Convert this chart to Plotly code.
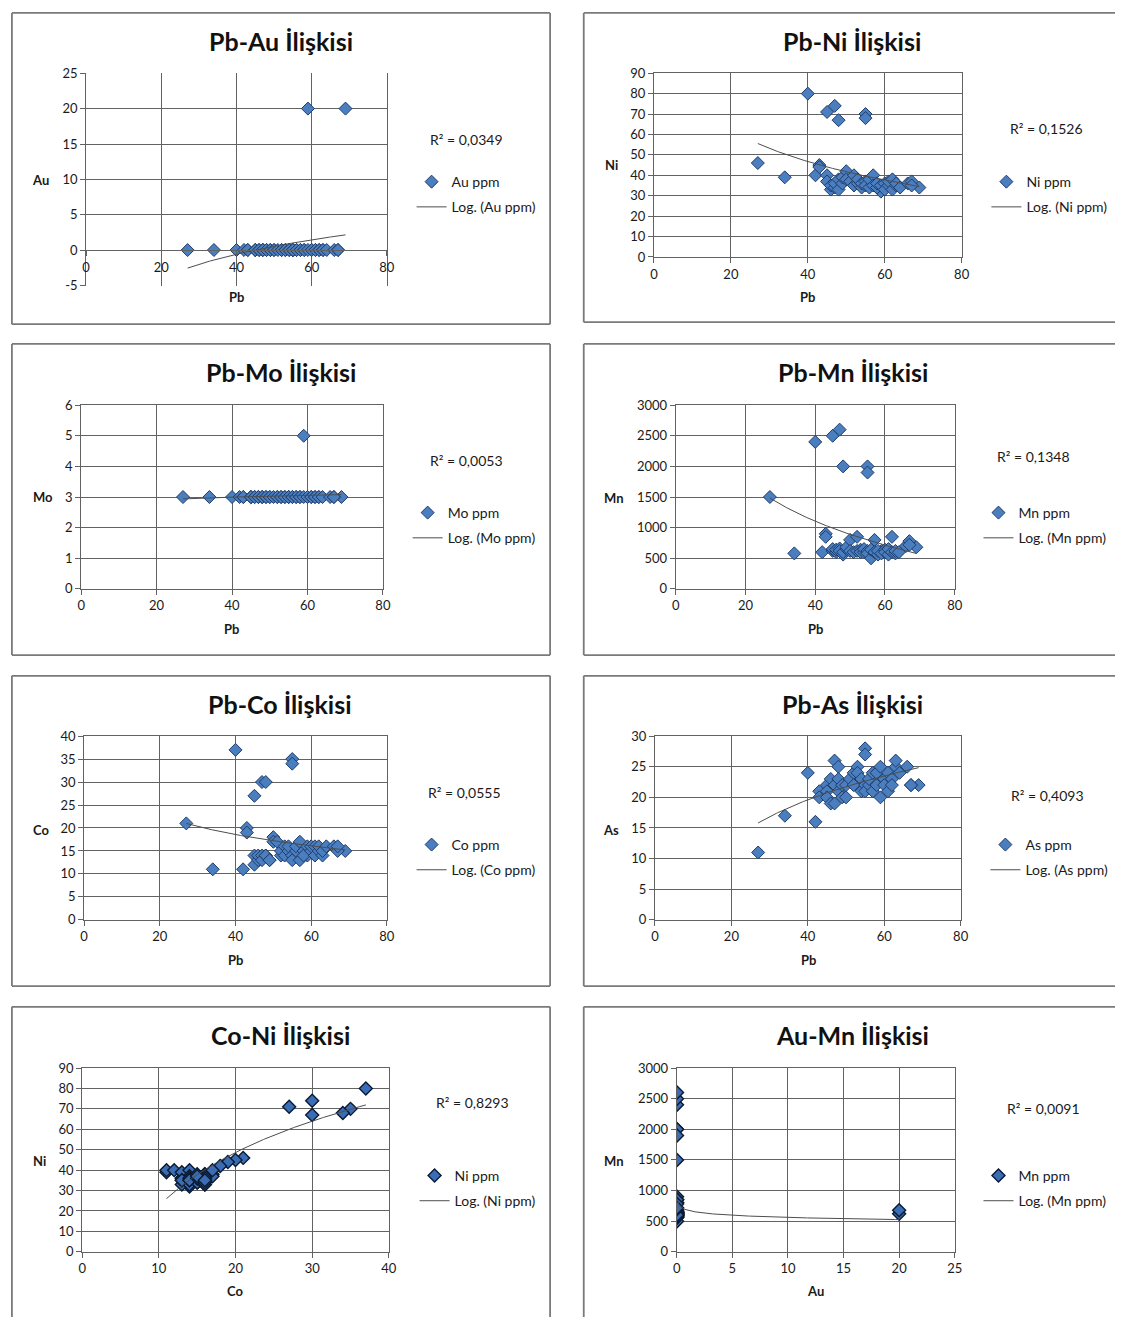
import numpy as np
import plotly.graph_objects as go

W, H = 1123, 1325
FONT = "Lato"

# ---------------- data (one entry per sample) ----------------
pb = [27, 34, 40, 42, 43, 43, 45, 47, 48, 55, 55, 59, 69,
      45, 45, 46, 46, 47, 47, 48, 48, 49, 49, 50, 50, 51, 52, 52, 53, 53,
      54, 54, 55, 55, 56, 56, 57, 57, 58, 58, 59, 60, 60, 61, 61, 62, 62,
      63, 63, 64, 66, 67, 67]
au = [0.025, 0.03, 0.025, 0.03, 0.03, 0.03, 0.025, 0.025, 0.025, 0.025, 0.025, 20, 20,
      0.03, 0.03, 0.03, 0.03, 0.03, 0.03, 0.03, 0.03, 0.03, 0.03, 0.03, 0.03, 0.03,
      0.03, 0.03, 0.03, 0.03, 0.03, 0.03, 0.03, 0.03, 0.03, 0.03, 0.03, 0.03, 0.03,
      0.03, 0.03, 0.03, 0.03, 0.03, 0.03, 0.03, 0.03, 0.03, 0.03, 0.03, 0.03, 0.03, 0.03]
ni = [46, 39, 80, 40, 45, 44, 71, 74, 67, 70, 68, 32, 34,
      40, 37, 33, 35, 34, 36, 38, 33, 36, 39, 42, 38, 37, 40, 35, 36, 38,
      34, 36, 37, 35, 34, 38, 40, 35, 34, 36, 35, 36, 33, 35, 37, 38, 33,
      35, 36, 34, 36, 37, 35]
mo = [3, 3, 3, 3, 3, 3, 3, 3, 3, 3, 3, 5, 3,
      3, 3, 3, 3, 3, 3, 3, 3, 3, 3, 3, 3, 3, 3, 3, 3, 3,
      3, 3, 3, 3, 3, 3, 3, 3, 3, 3, 3, 3, 3, 3, 3, 3, 3,
      3, 3, 3, 3, 3, 3]
mn = [1500, 580, 2400, 600, 900, 850, 2500, 2600, 2000, 2000, 1900, 620, 680,
      620, 650, 600, 640, 660, 620, 560, 600, 650, 680, 800, 620, 600, 850, 620, 640, 600,
      600, 650, 620, 580, 500, 640, 800, 600, 560, 620, 580, 640, 600, 560, 650, 850, 600,
      580, 620, 600, 700, 780, 720]
co = [21, 11, 37, 11, 20, 19, 27, 30, 30, 35, 34, 14, 15,
      12, 14, 13, 14, 14, 13, 14, 14, 13, 13, 18, 17, 17, 14, 15, 14, 16,
      15, 16, 14, 13, 15, 16, 17, 13, 15, 14, 16, 15, 16, 14, 16, 15, 16,
      14, 15, 16, 16, 15, 16]
as_ = [11, 17, 24, 16, 21, 20, 22, 26, 25, 28, 27, 20, 22,
       21, 20, 23, 19, 22, 19, 21, 23, 20, 22, 20, 22, 23, 24, 22, 25, 24,
       21, 23, 22, 21, 22, 23, 24, 21, 22, 24, 25, 23, 22, 24, 21, 23, 22,
       25, 26, 24, 25, 22, 22]

titles = ["Pb-Au İlişkisi", "Pb-Ni İlişkisi", "Pb-Mo İlişkisi", "Pb-Mn İlişkisi",
          "Pb-Co İlişkisi", "Pb-As İlişkisi", "Co-Ni İlişkisi", "Au-Mn İlişkisi"]
r2_labels = ["R² = 0,0349", "R² = 0,1526", "R² = 0,0053", "R² = 0,1348",
             "R² = 0,0555", "R² = 0,4093", "R² = 0,8293", "R² = 0,0091"]

# ---------------- panel configuration (pixel positions) ----------------
panels = [
    dict(x=pb, y=au, xt="Pb", yt="Au", name="Au ppm", xr=[0, 80], xdt=20, yr=[-5, 25], ydt=5,
         plot=(83, 66, 387, 281), box=(8, 5, 552, 320), title=(280, 33), ylab=(37, 174),
         xlab=(235, 293), r2=(429, 133), leg=(433, 172), dark=False),
    dict(x=pb, y=ni, xt="Pb", yt="Ni", name="Ni ppm", xr=[0, 80], xdt=20, yr=[0, 90], ydt=10,
         plot=(657, 66, 968, 252), box=(586, 5, None, 318), title=(857, 33), ylab=(614, 159),
         xlab=(812, 293), r2=(1015, 122), leg=(1014, 172), dark=False),
    dict(x=pb, y=mo, xt="Pb", yt="Mo", name="Mo ppm", xr=[0, 80], xdt=20, yr=[0, 6], ydt=1,
         plot=(78, 402, 383, 588), box=(8, 340, 552, 655), title=(280, 368), ylab=(39, 495),
         xlab=(230, 629), r2=(429, 458), leg=(429, 507), dark=False),
    dict(x=pb, y=mn, xt="Pb", yt="Mn", name="Mn ppm", xr=[0, 80], xdt=20, yr=[0, 3000], ydt=500,
         plot=(679, 402, 961, 588), box=(586, 340, None, 655), title=(858, 368), ylab=(617, 496),
         xlab=(820, 629), r2=(1002, 454), leg=(1006, 507), dark=False),
    dict(x=pb, y=co, xt="Pb", yt="Co", name="Co ppm", xr=[0, 80], xdt=20, yr=[0, 40], ydt=5,
         plot=(81, 737, 387, 923), box=(8, 676, 552, 990), title=(279, 705), ylab=(37, 832),
         xlab=(234, 964), r2=(427, 794), leg=(433, 843), dark=False),
    dict(x=pb, y=as_, xt="Pb", yt="As", name="As ppm", xr=[0, 80], xdt=20, yr=[0, 30], ydt=5,
         plot=(658, 737, 967, 923), box=(586, 676, None, 990), title=(858, 705), ylab=(614, 832),
         xlab=(813, 964), r2=(1016, 797), leg=(1013, 843), dark=False),
    dict(x=co, y=ni, xt="Co", yt="Ni", name="Ni ppm", xr=[0, 40], xdt=10, yr=[0, 90], ydt=10,
         plot=(79, 1073, 389, 1259), box=(8, 1011, 552, None), title=(279, 1040), ylab=(36, 1167),
         xlab=(234, 1299), r2=(435, 1108), leg=(436, 1178), dark=True),
    dict(x=au, y=mn, xt="Au", yt="Mn", name="Mn ppm", xr=[0, 25], xdt=5, yr=[0, 3000], ydt=500,
         plot=(680, 1073, 961, 1259), box=(586, 1011, None, None), title=(858, 1040), ylab=(617, 1167),
         xlab=(820, 1299), r2=(1012, 1114), leg=(1006, 1178), dark=True),
]


def fx(p):
    return p / W


def fy(p):
    return 1 - p / H


GRID = "#626262"
TXT = "#1a1a1a"
FRAME = dict(color="#7a7a7a", width=1.8)

fig = go.Figure()
layout = dict(
    width=W, height=H, margin=dict(l=0, r=0, t=0, b=0),
    paper_bgcolor="white", plot_bgcolor="white",
    font=dict(family=FONT, size=13, color=TXT),
    showlegend=True,
)
shapes = []
annotations = []

for i, p in enumerate(panels):
    k = i + 1
    sfx = "" if k == 1 else str(k)
    xa, ya = "x" + sfx, "y" + sfx
    x0, y0, x1, y1 = p["plot"]
    legname = "legend" if k == 1 else f"legend{k}"

    xarr = np.array(p["x"], dtype=float)
    yarr = np.array(p["y"], dtype=float)

    if p["dark"]:
        mcol, lcol, lw = "#3a6db3", "#0b1a33", 1.4
    else:
        mcol, lcol, lw = "#4a7ebf", "#1f3c6a", 1.0

    fig.add_trace(go.Scatter(
        x=xarr, y=yarr, mode="markers", name=p["name"], xaxis=xa, yaxis=ya,
        marker=dict(symbol="diamond", size=10, color=mcol, line=dict(color=lcol, width=lw)),
        legend=legname, legendgroup=f"m{k}", hoverinfo="x+y",
    ))

    # logarithmic trendline (least squares on ln x)
    a, b = np.polyfit(np.log(xarr), yarr, 1)
    xs = np.linspace(xarr.min(), xarr.max(), 200)
    fig.add_trace(go.Scatter(
        x=xs, y=a * np.log(xs) + b, mode="lines", name=f"Log. ({p['name']})",
        xaxis=xa, yaxis=ya, line=dict(color="#4d4d4d", width=1),
        legend=legname, legendgroup=f"t{k}", hoverinfo="skip",
    ))

    xticks = list(np.arange(p["xr"][0], p["xr"][1] + 1e-9, p["xdt"]))
    yticks = list(np.arange(p["yr"][0], p["yr"][1] + 1e-9, p["ydt"]))
    axcommon = dict(showgrid=True, gridcolor=GRID, gridwidth=1, zeroline=False,
                    ticks="outside", ticklen=5, tickcolor=GRID,
                    tickfont=dict(family=FONT, size=13, color=TXT),
                    showline=True, linecolor=GRID, linewidth=1)
    xaxis = dict(axcommon, domain=[fx(x0), fx(x1)], range=p["xr"], tickmode="array",
                 tickvals=xticks, ticktext=[f"{v:g}" for v in xticks], anchor=ya, mirror=True)
    yaxis = dict(axcommon, domain=[fy(y1), fy(y0)], range=p["yr"], tickmode="array",
                 tickvals=yticks, ticktext=[f"{v:g}" for v in yticks], anchor=xa, mirror=True)
    if p["yr"][0] < 0:
        # horizontal axis crosses at y = 0 (Excel style)
        zero_px = y0 + (p["yr"][1] - 0) / (p["yr"][1] - p["yr"][0]) * (y1 - y0)
        xaxis.update(anchor="free", position=fy(zero_px), mirror=False)
    layout["xaxis" + sfx] = xaxis
    layout["yaxis" + sfx] = yaxis

    # legend
    lx, ly = p["leg"]
    layout[legname] = dict(
        x=fx(lx - 21), y=fy(ly - 12), xanchor="left", yanchor="top",
        bgcolor="rgba(0,0,0,0)", font=dict(family=FONT, size=14, color=TXT),
        tracegroupgap=4, traceorder="grouped", itemwidth=30,
    )

    # frame around each chart (sides cut by the page edge are omitted)
    bx0, by0, bx1, by1 = p["box"]
    right = bx1 if bx1 is not None else W
    bottom = by1 if by1 is not None else H
    edges = [(bx0, by0, bx0, bottom), (bx0, by0, right, by0)]
    if bx1 is not None:
        edges.append((bx1, by0, bx1, bottom))
    if by1 is not None:
        edges.append((bx0, by1, right, by1))
    for ex0, ey0, ex1, ey1 in edges:
        shapes.append(dict(type="line", xref="paper", yref="paper",
                           x0=fx(ex0), x1=fx(ex1), y0=fy(ey0), y1=fy(ey1),
                           line=FRAME, layer="below"))

    tx, ty = p["title"]
    annotations.append(dict(text=f"<b>{titles[i]}</b>", x=fx(tx), y=fy(ty), xref="paper",
                            yref="paper", showarrow=False, xanchor="center", yanchor="middle",
                            font=dict(family=FONT, size=25, color="#111111")))
    yx, yy = p["ylab"]
    annotations.append(dict(text=f"<b>{p['yt']}</b>", x=fx(yx), y=fy(yy), xref="paper",
                            yref="paper", showarrow=False, xanchor="center", yanchor="middle",
                            font=dict(family=FONT, size=13, color=TXT)))
    xx, xy = p["xlab"]
    annotations.append(dict(text=f"<b>{p['xt']}</b>", x=fx(xx), y=fy(xy), xref="paper",
                            yref="paper", showarrow=False, xanchor="center", yanchor="middle",
                            font=dict(family=FONT, size=13, color=TXT)))
    rx, ry = p["r2"]
    annotations.append(dict(text=r2_labels[i], x=fx(rx), y=fy(ry), xref="paper",
                            yref="paper", showarrow=False, xanchor="left", yanchor="middle",
                            font=dict(family=FONT, size=14, color=TXT)))

layout["shapes"] = shapes
layout["annotations"] = annotations
fig.update_layout(**layout)

page_js = (
    "document.documentElement.style.margin='0';"
    "document.documentElement.style.overflow='hidden';"
    "document.body.style.margin='0';document.body.style.padding='0';"
    "document.body.style.overflow='hidden';"
    "var gd=document.getElementById('{plot_id}');"
    "gd.style.position='absolute';gd.style.left='0px';gd.style.top='0px';"
)
fig.write_html("out.html", config={"displayModeBar": False}, post_script=page_js)
